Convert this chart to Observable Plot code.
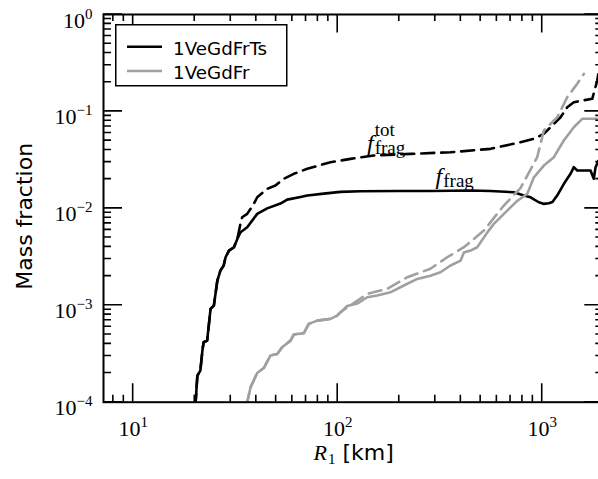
<!DOCTYPE html>
<html><head><meta charset="utf-8">
<script src="https://cdn.jsdelivr.net/npm/d3@7"></script>
<script src="https://cdn.jsdelivr.net/npm/@observablehq/plot@0.6"></script>
<style>
body{margin:0;background:#fff;}
#wrap{position:relative;width:598px;height:479px;overflow:hidden;background:#fff;}
#chart svg{max-width:none !important;}
#ticks{position:absolute;left:0;top:0;pointer-events:none;}
#legend{position:absolute;left:115px;top:24px;}
</style></head><body>
<div id="wrap"><div id="chart"></div><svg id="ticks" width="606" height="479"></svg><svg id="legend" width="174" height="64"></svg></div>
<script>
// ---- data ----
const seriesNames = ["1VeGdFrTs", "1VeGdFr"];
const seriesColors = ["#000000", "#a0a0a0"];

// 1VeGdFrTs, f_frag (solid black)
const tsFragR = [20.1,20.2,20.6,21.3,21.8,22.1,23.0,23.9,24.8,25.8,26.7,27.7,28.3,29.4,31.1,32.3,33.5,36.1,40.4,45.2,52.5,56.6,65.8,71.0,85.5,103,129,200,284,446,558,726,813,877,962,1014,1076,1122,1183,1276,1375,1427,1483,1722,1787,1823,1885,2000];
const tsFragF = [9e-5,1.0e-4,1.88e-4,2.12e-4,3.41e-4,4.15e-4,4.32e-4,9.18e-4,9.93e-4,1.80e-3,2.28e-3,2.57e-3,3.13e-3,3.67e-3,3.97e-3,4.84e-3,5.67e-3,6.38e-3,8.77e-3,1.0e-2,1.12e-2,1.23e-2,1.31e-2,1.355e-2,1.42e-2,1.48e-2,1.50e-2,1.51e-2,1.51e-2,1.53e-2,1.51e-2,1.466e-2,1.355e-2,1.30e-2,1.156e-2,1.113e-2,1.13e-2,1.16e-2,1.355e-2,1.79e-2,2.27e-2,2.66e-2,2.455e-2,2.455e-2,2.02e-2,2.66e-2,3.11e-2,3.3e-2];

// 1VeGdFrTs, f_frag^tot (dashed black)
const tsTotR = [20.1,20.2,20.6,21.3,21.8,22.1,23.0,23.9,24.8,25.8,26.7,27.7,28.3,29.4,31.1,32.3,33.5,34.1,36.1,38.9,40.4,45.2,49.6,54.5,61.0,71.0,92.2,115.5,150,227,356,559,783,910,1018,1098,1229,1325,1427,1569,1756,1858,1885,2000];
const tsTotF = [9e-5,1.0e-4,1.88e-4,2.12e-4,3.41e-4,4.15e-4,4.32e-4,9.18e-4,9.93e-4,1.80e-3,2.28e-3,2.57e-3,3.13e-3,3.67e-3,3.97e-3,4.84e-3,7.0e-3,8.1e-3,8.77e-3,1.113e-2,1.302e-2,1.59e-2,1.72e-2,2.02e-2,2.27e-2,2.56e-2,2.99e-2,3.24e-2,3.51e-2,3.65e-2,3.79e-2,4.11e-2,4.81e-2,5.22e-2,5.87e-2,6.87e-2,8.71e-2,0.1105,0.1245,0.1296,0.1349,0.2084,0.252,0.3];

// 1VeGdFr, f_frag (solid grey)
const frFragR = [35.8,36.1,37.5,40.4,43.5,46.9,50.6,53.5,58.8,61.0,68.3,72.2,79.4,92.2,99.4,111.3,124.6,139.4,156,181,210.5,245,284,318,356,399,414,446,481,538,580,674,748,845,910,1018,1140,1275,1427,1569,2000];
const frFragF = [9e-5,1.0e-4,1.425e-4,2.0e-4,2.25e-4,3.03e-4,3.15e-4,3.69e-4,4.32e-4,4.99e-4,5.16e-4,6.43e-4,6.95e-4,7.24e-4,7.83e-4,9.82e-4,1.042e-3,1.21e-3,1.26e-3,1.36e-3,1.60e-3,1.87e-3,2.02e-3,2.19e-3,2.57e-3,2.89e-3,3.50e-3,3.67e-3,3.97e-3,5.62e-3,6.92e-3,9.49e-3,1.175e-2,1.41e-2,2.09e-2,2.76e-2,3.37e-2,5.01e-2,6.87e-2,8.39e-2,8.39e-2];

// 1VeGdFr, f_frag^tot (dashed grey)
const frTotR = [35.8,36.1,37.5,40.4,43.5,46.9,50.6,53.5,58.8,61.0,68.3,72.2,79.4,92.2,99.4,103,139.4,174.6,219,284,343,414,518,649,783,945,1018,1184,1325,1483,1598];
const frTotF = [9e-5,1.0e-4,1.425e-4,2.0e-4,2.25e-4,3.03e-4,3.15e-4,3.69e-4,4.32e-4,4.99e-4,5.16e-4,6.43e-4,6.95e-4,7.24e-4,7.83e-4,8.47e-4,1.31e-3,1.48e-3,1.95e-3,2.38e-3,3.13e-3,3.97e-3,5.90e-3,1.069e-2,1.62e-2,3.37e-2,6.35e-2,8.71e-2,0.140,0.193,0.244];

// axis ticks and labels
const xAxisTicks = [10, 100, 1000];
const xAxisTickLabels = ["10^1", "10^2", "10^3"];
const yAxisTicks = [1e-4, 1e-3, 1e-2, 1e-1, 1];
const yAxisTickLabels = ["10^−4", "10^−3", "10^−2", "10^−1", "10^0"];
const xDomain = [7.16, 2000];
const yDomain = [1e-4, 1];
const yAxisTitle = "Mass fraction";
const xAxisTitle = "R_1 [km]";

// curve annotations
const annoText = ["f_frag^tot", "f_frag"];
const annoR = [139, 301];
const annoF = [0.0474, 0.0215];

// ---- build ----
const toRows = (R, F) => R.map((r, i) => ({R: r, f: F[i]}));
const minorX = [], minorY = [];
for (const dec of [1, 10, 100, 1000]) for (let k = 2; k <= 9; k++) { const v = k * dec; if (v > xDomain[0] && v < xDomain[1]) minorX.push(v); }
for (const dec of [1e-4, 1e-3, 1e-2, 1e-1]) for (let k = 2; k <= 9; k++) minorY.push(k * dec);

const W = 606, H = 479, mL = 103, mT = 14, mB = 479 - 401.7, mR = W - 603.3;
const serif = "Liberation Serif", sans = "DejaVu Sans";

const chart = Plot.plot({
  width: W, height: H,
  marginLeft: mL, marginRight: mR, marginTop: mT, marginBottom: mB,
  x: {type: "log", domain: xDomain},
  y: {type: "log", domain: yDomain},
  style: {background: "#fff", maxWidth: "none"},
  marks: [
    Plot.line(toRows(tsFragR, tsFragF), {x: "R", y: "f", stroke: seriesColors[0], strokeWidth: 2.6, clip: true}),
    Plot.line(toRows(tsTotR, tsTotF), {x: "R", y: "f", stroke: seriesColors[0], strokeWidth: 2.6, strokeDasharray: "13,7", clip: true}),
    Plot.line(toRows(frFragR, frFragF), {x: "R", y: "f", stroke: seriesColors[1], strokeWidth: 2.6, clip: true}),
    Plot.line(toRows(frTotR, frTotF), {x: "R", y: "f", stroke: seriesColors[1], strokeWidth: 2.6, strokeDasharray: "13,7", clip: true}),
    Plot.frame({stroke: "#000", strokeWidth: 2}),
    Plot.axisX({ticks: xAxisTicks, tickFormat: d => xAxisTickLabels[xAxisTicks.indexOf(d)], tickSize: 0, tickPadding: 18, label: null, fontSize: 22, fontFamily: serif}),
    Plot.axisY({ticks: yAxisTicks, tickFormat: d => yAxisTickLabels[yAxisTicks.indexOf(d)], tickSize: 0, tickPadding: 11, label: null, fontSize: 22, fontFamily: serif}),
    Plot.text([yAxisTitle], {text: d => d, frameAnchor: "left", textAnchor: "middle", lineAnchor: "middle", rotate: -90, dx: -79, dy: 8, fontSize: 22, fontFamily: sans, fill: "#000"}),
    Plot.text([xAxisTitle], {text: d => d, frameAnchor: "bottom", textAnchor: "middle", lineAnchor: "middle", dy: 51, fontSize: 22, fontFamily: serif, fill: "#000"}),
    Plot.text(annoText.map((t, i) => ({t, R: annoR[i], f: annoF[i]})), {x: "R", y: "f", text: "t", textAnchor: "start", lineAnchor: "middle", fontSize: 24, fontFamily: serif, fill: "#000"})
  ]
});
chart.style.maxWidth = "none";
document.getElementById("chart").append(chart);

// ---- inward ticks on all four sides, positioned with Plot's own scales ----
const sx = chart.scale("x"), sy = chart.scale("y");
const fx0 = mL, fx1 = W - mR, fy0 = mT, fy1 = H - mB;
let dPath = "";
const addX = (vals, len) => vals.forEach(v => {
  const px = sx.apply(v).toFixed(2);
  dPath += `M${px},${fy1}V${(fy1 - len).toFixed(2)}M${px},${fy0}V${(fy0 + len).toFixed(2)}`;
});
const addY = (vals, len) => vals.forEach(v => {
  const py = sy.apply(v).toFixed(2);
  dPath += `M${fx0},${py}H${(fx0 + len).toFixed(2)}M${fx1},${py}H${(fx1 - len).toFixed(2)}`;
});
addX(minorX, 7); addX(xAxisTicks, 18.5); addY(minorY, 8); addY(yAxisTicks, 19);
d3.select("#ticks").append("path").attr("d", dPath).attr("fill", "none").attr("stroke", "#000").attr("stroke-width", 1.6);

// ---- rich text (super/subscripts) ----
const NS = "http://www.w3.org/2000/svg";
function rich(el, parts) {
  while (el.firstChild) el.removeChild(el.firstChild);
  let prev = null;
  for (const p of parts) {
    const t = document.createElementNS(NS, "tspan");
    t.textContent = p.t;
    if (p.family) t.setAttribute("font-family", p.family);
    if (p.size) t.setAttribute("font-size", p.size);
    if (p.italic) t.setAttribute("font-style", "italic");
    if (p.dy) t.setAttribute("dy", p.dy);
    el.appendChild(t);
    let dx = p.dx || 0;
    if (p.over && prev) dx -= prev.getComputedTextLength();
    if (dx) t.setAttribute("dx", dx);
    prev = t;
  }
}
chart.querySelectorAll("text").forEach(el => {
  const s = el.textContent;
  const isY = el.closest("g[aria-label^='y-axis']") != null;
  if (/^10\^/.test(s)) {
    const [b, e] = s.split("^");
    rich(el, [{t: b, dy: isY ? 6 : 0}, {t: e, size: 15, dy: -9}]);
  } else if (/^f_/.test(s)) {
    const m = s.match(/^(.)_([^\^]+)(?:\^(.+))?$/);
    const parts = [{t: m[1], italic: true}, {t: m[2], size: 19, dy: 3, dx: 1}];
    if (m[3]) parts.push({t: m[3], size: 19, dy: -18, over: true});
    rich(el, parts);
  } else if (/^R_1/.test(s)) {
    rich(el, [{t: "R", italic: true}, {t: "1", size: 15, dy: 4, dx: 1}, {t: " [km]", family: sans, size: 22, dy: -4}]);
  }
});

// ---- legend ----
const lg = d3.select("#legend");
lg.append("rect").attr("x", 0.75).attr("y", 0.75).attr("width", 171).attr("height", 61).attr("fill", "#fff").attr("stroke", "#000").attr("stroke-width", 1.5);
seriesNames.forEach((name, i) => {
  const cy = 22.7 + i * 24.3;
  lg.append("line").attr("x1", 12).attr("x2", 47).attr("y1", cy).attr("y2", cy).attr("stroke", seriesColors[i]).attr("stroke-width", 2.6);
  lg.append("text").attr("x", 58).attr("y", cy + 8.3).attr("font-family", sans).attr("font-size", 18.3).text(name);
});
</script>
</body></html>
